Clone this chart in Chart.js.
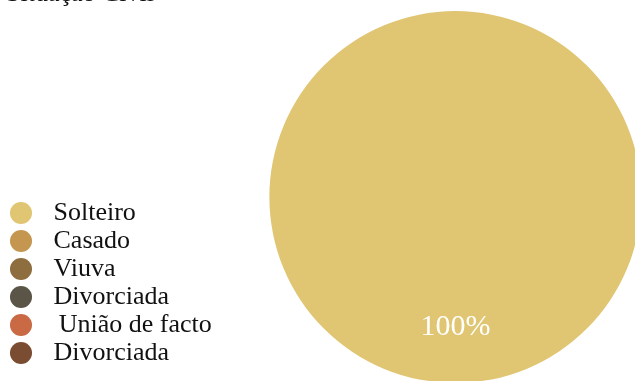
<!DOCTYPE html>
<html lang="pt">
<head>
<meta charset="utf-8">
<title>Situação Civil</title>
<script src="https://cdn.jsdelivr.net/npm/chart.js@4/dist/chart.umd.min.js"></script>
<style>
  html, body { margin: 0; padding: 0; background: #fff; }
  #frame { position: relative; width: 635px; height: 381px; overflow: hidden; }
  #holder { position: absolute; left: 6px; top: -30px; width: 683px; height: 414px; }
</style>
</head>
<body>
<div id="frame">
  <div id="holder"><canvas id="chart-civil"></canvas></div>
</div>
<script>
const chartTitle = 'Situação Civil';
const categories = ['Solteiro', 'Casado', 'Viuva', 'Divorciada', 'União de facto', 'Divorciada'];
const counts = [100, 0, 0, 0, 0, 0];
const sliceColors = ['#e0c572', '#c5964f', '#8e6e3f', '#5b5548', '#c96a44', '#7a4c31'];
// small left indent per legend entry, as in the old spreadsheet export
const legendIndent = [' ', ' ', ' ', ' ', ' \u2009', ' '];

const serif = "'Liberation Serif', 'Times New Roman', serif";

// percentage written inside each non-empty slice
const percentLabels = {
    id: 'percentLabels',
    afterDatasetsDraw(chart) {
        const { ctx } = chart;
        const meta = chart.getDatasetMeta(0);
        const total = counts.reduce((a, b) => a + b, 0);
        ctx.save();
        ctx.fillStyle = '#ffffff';
        ctx.font = '30px ' + serif;
        ctx.textAlign = 'center';
        ctx.textBaseline = 'middle';
        meta.data.forEach((arc, i) => {
            if (!counts[i]) return;
            const { x, y, startAngle, endAngle, outerRadius } = arc.getProps(['x', 'y', 'startAngle', 'endAngle', 'outerRadius'], true);
            const mid = (startAngle + endAngle) / 2;
            const r = outerRadius * 0.70;
            const pct = Math.round(counts[i] / total * 100) + '%';
            ctx.fillText(pct, x + Math.cos(mid) * r, y + Math.sin(mid) * r);
        });
        ctx.restore();
    }
};

new Chart(document.getElementById('chart-civil'), {
    type: 'pie',
    data: {
        labels: categories,
        datasets: [{
            data: counts,
            backgroundColor: sliceColors,
            borderWidth: 0,
            radius: 186,
            clip: false,
        }],
    },
    options: {
        responsive: true,
        maintainAspectRatio: false,
        animation: false,
        layout: { padding: { left: 0, top: 0, right: 0, bottom: 16 } },
        plugins: {
            title: {
                display: true,
                text: chartTitle,
                align: 'start',
                color: '#111',
                font: { family: serif, size: 26, weight: 'normal' },
                padding: { top: 9, bottom: 16 },
            },
            legend: {
                position: 'left',
                align: 'end',
                labels: {
                    usePointStyle: true,
                    pointStyle: 'circle',
                    boxWidth: 26,
                    boxHeight: 15.6,
                    padding: 2,
                    color: '#111',
                    font: { family: serif, size: 26 },
                    generateLabels(chart) {
                        return categories.map((name, i) => ({
                            text: legendIndent[i] + name,
                            fillStyle: sliceColors[i],
                            strokeStyle: sliceColors[i],
                            fontColor: '#111',
                            lineWidth: 0,
                            pointStyle: 'circle',
                            hidden: false,
                            index: i,
                        }));
                    },
                },
            },
            tooltip: { enabled: false },
        },
    },
    plugins: [percentLabels],
});
</script>
</body>
</html>
